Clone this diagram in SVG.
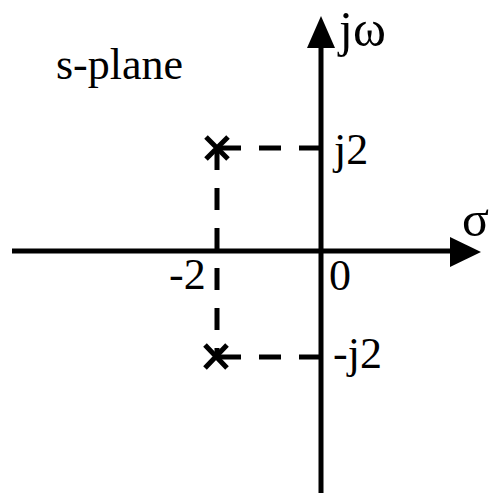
<svg xmlns="http://www.w3.org/2000/svg" width="491" height="495" viewBox="0 0 491 495">
<style>
text{font-family:"Liberation Serif","DejaVu Serif","Times New Roman",serif;font-size:44px;fill:#000}
.big{font-size:50px}
.ax{stroke:#000;stroke-width:5;fill:none}
.ds{stroke:#000;stroke-width:5;fill:none;stroke-dasharray:22 18}
.pl{stroke:#000;stroke-width:5;fill:none}
</style>
<rect width="491" height="495" fill="#fff"/>
<g id="connectors">
<line class="ax" x1="321" y1="493" x2="321" y2="45"/>
<polygon points="321,16 307,48 335,48" fill="#000"/>
<line class="ax" x1="12" y1="251" x2="452" y2="251"/>
<polygon points="481,252 450,237 450,267" fill="#000"/>
<line class="ds" x1="321" y1="148" x2="217" y2="148"/>
<line class="ds" x1="321" y1="357" x2="217" y2="357"/>
<line class="ds" x1="217" y1="148" x2="217" y2="357"/>
</g>
<g id="pole1">
<path class="pl" d="M206,137 L228,159 M228,137 L206,159"/>
</g>
<g id="pole2">
<path class="pl" d="M205,345 L227,368 M227,345 L205,368"/>
</g>
<g id="labels">
<text x="56" y="79">s-plane</text>
<text class="big" x="339" y="46">jω</text>
<text class="big" x="462" y="236">σ</text>
<text x="334" y="164">j2</text>
<text x="333" y="368">-j2</text>
<text x="169" y="289">-2</text>
<text x="329" y="290">0</text>
</g>
</svg>
